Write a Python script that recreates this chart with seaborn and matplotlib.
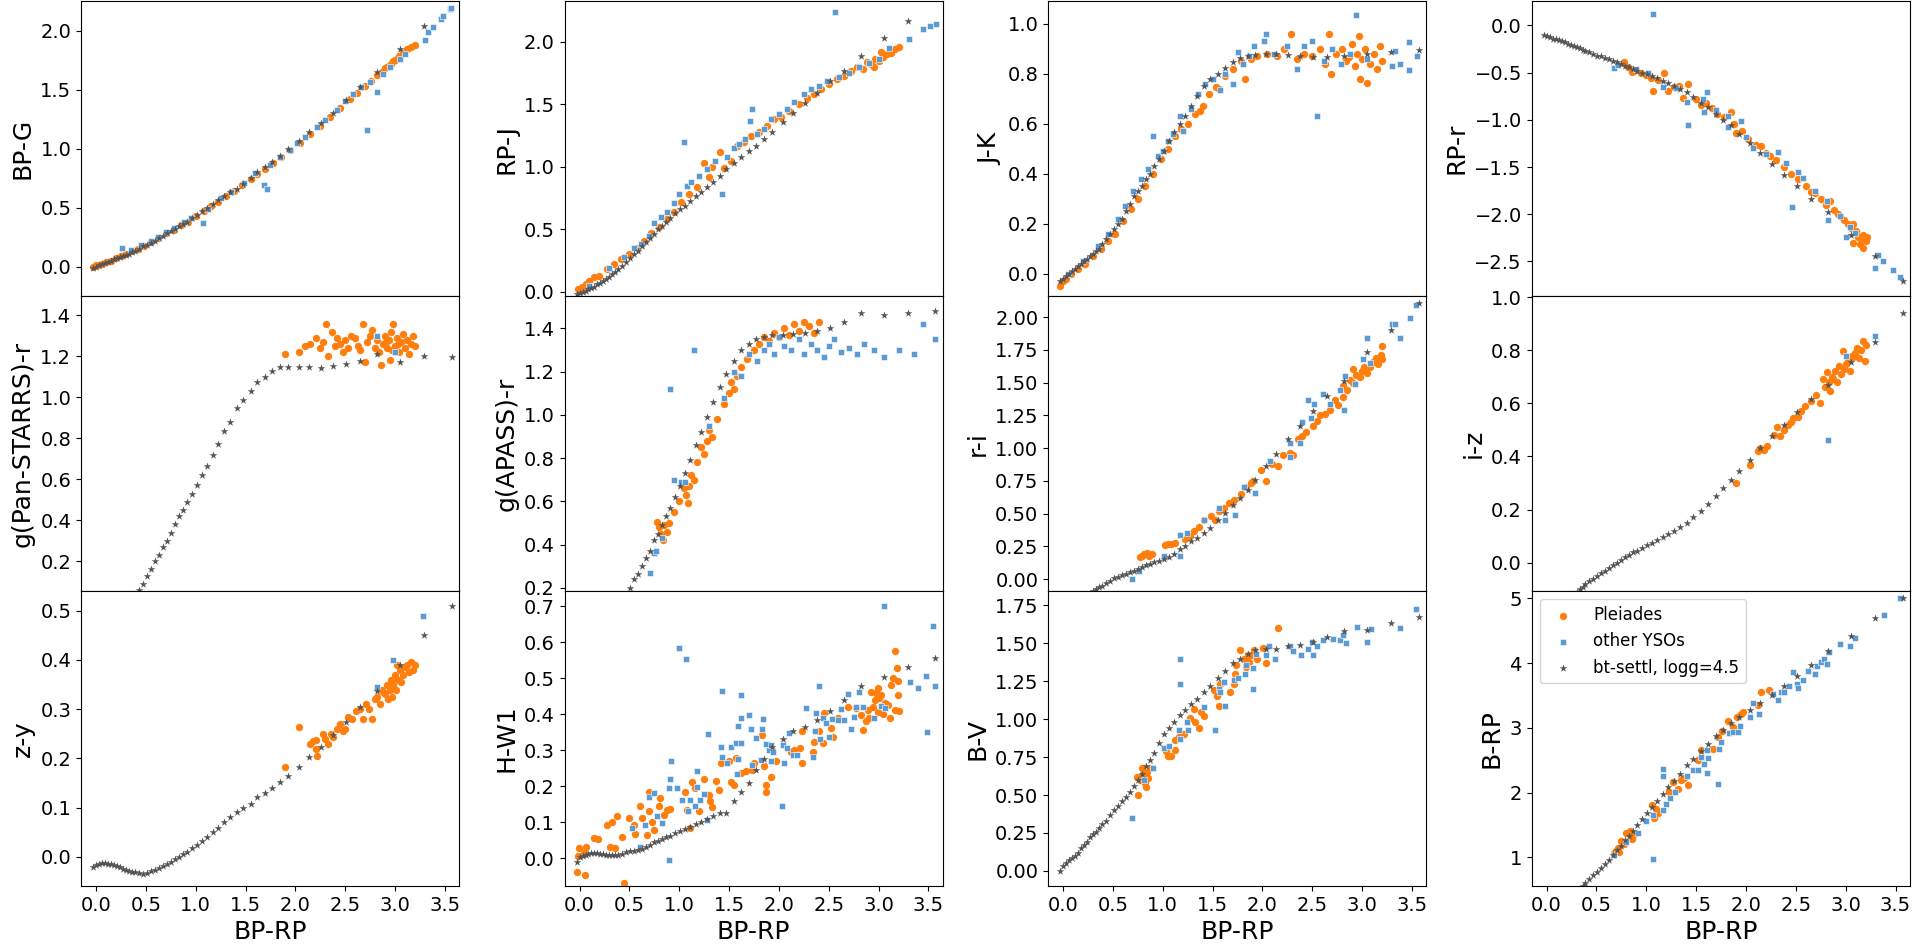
import numpy as np
import pandas as pd
import seaborn as sns
import matplotlib
matplotlib.use("Agg")
import matplotlib.pyplot as plt
import matplotlib.ticker as ticker

nan = np.nan

# bt-settl model grid (BP-RP), shared by every panel
bt_bp_rp = [
    -0.03, 0.00, 0.03, 0.06, 0.09, 0.12, 0.15, 0.18, 0.21, 0.24,
    0.27, 0.30, 0.33, 0.36, 0.39, 0.43, 0.47, 0.51, 0.55, 0.59,
    0.63, 0.67, 0.71, 0.75, 0.79, 0.83, 0.87, 0.91, 0.96, 1.01,
    1.06, 1.11, 1.17, 1.22, 1.28, 1.34, 1.41, 1.47, 1.55, 1.62,
    1.70, 1.77, 1.85, 1.93, 2.04, 2.14, 2.26, 2.38, 2.51, 2.65,
    2.82, 3.05, 3.29, 3.57]

bt_bp_g = [
    -0.01, 0.00, 0.01, 0.02, 0.03, 0.04, 0.05, 0.06, 0.07, 0.08,
    0.09, 0.10, 0.11, 0.12, 0.13, 0.15, 0.17, 0.18, 0.20, 0.22,
    0.24, 0.26, 0.28, 0.30, 0.32, 0.34, 0.36, 0.38, 0.41, 0.44,
    0.47, 0.50, 0.53, 0.56, 0.60, 0.63, 0.66, 0.70, 0.75, 0.80,
    0.84, 0.89, 0.94, 1.00, 1.06, 1.14, 1.22, 1.30, 1.41, 1.52,
    1.65, 1.84, 2.04, 2.33]
bt_pan = [
    nan, nan, nan, nan, nan, nan, nan, nan, nan, nan,
    nan, nan, nan, nan, nan, 0.06, 0.09, 0.13, 0.16, 0.20,
    0.23, 0.27, 0.30, 0.34, 0.38, 0.42, 0.45, 0.49, 0.53, 0.57,
    0.62, 0.665, 0.72, 0.77, 0.836, 0.88, 0.946, 0.985, 1.032, 1.075,
    1.10, 1.13, 1.147, 1.149, 1.149, 1.149, 1.144, 1.153, 1.161, 1.177,
    1.21, 1.17, 1.20, 1.195]
bt_z_y = [
    -0.020, -0.016, -0.014, -0.013, -0.013, -0.014, -0.015, -0.016, -0.018, -0.021,
    -0.024, -0.026, -0.028, -0.030, -0.031, -0.033, -0.034, -0.032, -0.029, -0.026,
    -0.023, -0.019, -0.015, -0.010, -0.005, 0.000, 0.005, 0.011, 0.018, 0.025,
    0.033, 0.041, 0.051, 0.059, 0.070, 0.082, 0.092, 0.100, 0.108, 0.121,
    0.129, 0.141, 0.152, 0.165, 0.182, 0.202, 0.223, 0.247, 0.274, 0.304,
    0.338, 0.39, 0.45, 0.51]
bt_rp_j = [
    -0.02, -0.01, 0.00, 0.01, 0.02, 0.03, 0.04, 0.06, 0.07, 0.09,
    0.10, 0.12, 0.14, 0.16, 0.18, 0.21, 0.24, 0.27, 0.30, 0.33,
    0.37, 0.40, 0.43, 0.46, 0.50, 0.53, 0.56, 0.59, 0.63, 0.66,
    0.69, 0.73, 0.77, 0.80, 0.84, 0.88, 0.93, 0.98, 1.03, 1.08,
    1.13, 1.17, 1.22, 1.28, 1.36, 1.43, 1.51, 1.59, 1.69, 1.77,
    1.89, 2.03, 2.17, 2.40]
bt_apass = [
    nan, nan, nan, nan, nan, nan, nan, nan, nan, nan,
    nan, nan, nan, nan, nan, nan, nan, 0.20, 0.24, 0.265,
    0.30, 0.34, 0.37, 0.42, 0.45, 0.49, 0.53, 0.57, 0.62, 0.67,
    0.73, 0.79, 0.86, 0.92, 0.99, 1.06, 1.13, 1.19, 1.25, 1.30,
    1.33, 1.35, 1.36, 1.37, 1.37, 1.375, 1.38, 1.39, 1.40, 1.43,
    1.47, 1.46, 1.47, 1.48]
bt_h_w1 = [
    -0.010, 0.003, 0.007, 0.010, 0.013, 0.015, 0.016, 0.015, 0.013, 0.011,
    0.010, 0.009, 0.008, 0.008, 0.009, 0.013, 0.018, 0.019, 0.020, 0.023,
    0.025, 0.030, 0.036, 0.044, 0.049, 0.054, 0.058, 0.063, 0.069, 0.075,
    0.081, 0.087, 0.095, 0.102, 0.108, 0.116, 0.125, 0.125, 0.159, 0.185,
    0.210, 0.245, 0.275, 0.308, 0.330, 0.352, 0.364, 0.384, 0.409, 0.440,
    0.477, 0.502, 0.532, 0.557]
bt_j_k = [
    -0.03, -0.02, -0.01, 0.00, 0.01, 0.02, 0.03, 0.04, 0.05, 0.06,
    0.07, 0.08, 0.09, 0.10, 0.12, 0.14, 0.16, 0.18, 0.20, 0.22,
    0.25, 0.28, 0.31, 0.33, 0.35, 0.38, 0.40, 0.43, 0.46, 0.49,
    0.53, 0.565, 0.60, 0.63, 0.67, 0.71, 0.75, 0.78, 0.80, 0.823,
    0.845, 0.863, 0.87, 0.875, 0.879, 0.879, 0.875, 0.872, 0.868, 0.868,
    0.872, 0.88, 0.888, 0.895]
bt_r_i = [
    nan, nan, nan, nan, nan, nan, nan, nan, nan, nan,
    nan, -0.09, -0.077, -0.062, -0.048, -0.03, -0.01, 0.008, 0.018, 0.03,
    0.042, 0.054, 0.066, 0.08, 0.092, 0.106, 0.118, 0.13, 0.142, 0.156,
    0.172, 0.19, 0.228, 0.256, 0.29, 0.315, 0.352, 0.39, 0.448, 0.505,
    0.565, 0.62, 0.68, 0.76, 0.864, 0.955, 1.07, 1.17, 1.28, 1.40,
    1.51, 1.73, 1.90, 2.11]
bt_b_v = [
    0.00, 0.03, 0.05, 0.07, 0.085, 0.10, 0.12, 0.15, 0.17, 0.19,
    0.22, 0.24, 0.255, 0.28, 0.31, 0.33, 0.37, 0.40, 0.43, 0.46,
    0.49, 0.52, 0.56, 0.60, 0.64, 0.69, 0.73, 0.78, 0.84, 0.90,
    0.94, 0.98, 1.03, 1.06, 1.10, 1.135, 1.176, 1.217, 1.27, 1.32,
    1.37, 1.40, 1.43, 1.455, 1.466, 1.466, 1.48, 1.49, 1.51, 1.54,
    1.584, 1.59, 1.637, 1.673]
bt_rp_r = [
    -0.10, -0.11, -0.12, -0.14, -0.15, -0.16, -0.17, -0.18, -0.20, -0.21,
    -0.22, -0.23, -0.24, -0.26, -0.27, -0.28, -0.30, -0.32, -0.33, -0.35,
    -0.36, -0.38, -0.39, -0.41, -0.43, -0.44, -0.46, -0.48, -0.50, -0.52,
    -0.54, -0.56, -0.59, -0.61, -0.64, -0.67, -0.71, -0.76, -0.82, -0.87,
    -0.94, -1.00, -1.06, -1.15, -1.25, -1.35, -1.47, -1.58, -1.70, -1.84,
    -1.98, -2.22, -2.44, -2.71]
bt_i_z = [
    -0.22, -0.21, -0.20, -0.19, -0.18, -0.17, -0.16, -0.15, -0.14, -0.13,
    -0.12, -0.11, -0.10, -0.09, -0.08, -0.07, -0.06, -0.05, -0.04, -0.03,
    -0.02, -0.01, 0.00, 0.01, 0.02, 0.03, 0.04, 0.045, 0.055, 0.065,
    0.075, 0.085, 0.097, 0.109, 0.12, 0.134, 0.15, 0.17, 0.196, 0.222,
    0.25, 0.28, 0.31, 0.346, 0.388, 0.43, 0.475, 0.518, 0.567, 0.615,
    0.67, 0.754, 0.83, 0.94]
bt_b_rp = [
    nan, nan, nan, nan, nan, nan, nan, nan, nan, nan,
    nan, nan, nan, 0.55, 0.60, 0.67, 0.73, 0.78, 0.83, 0.89,
    0.96, 1.04, 1.11, 1.18, 1.26, 1.33, 1.41, 1.50, 1.59, 1.69,
    1.77, 1.87, 1.98, 2.09, 2.18, 2.28, 2.42, 2.52, 2.64, 2.75,
    2.88, 2.97, 3.07, 3.17, 3.28, 3.38, 3.51, 3.65, 3.80, 3.97,
    4.18, 4.42, 4.69, 5.00]

# Pleiades members: (BP-RP, colour)
pl_bp_g = [(-0.03, 0.00), (0.00, 0.01), (0.03, 0.01), (0.06, 0.02), (0.10, 0.04), (0.15, 0.05),
           (0.20, 0.07), (0.25, 0.09), (0.30, 0.11), (0.36, 0.13), (0.42, 0.15), (0.48, 0.17),
           (0.55, 0.21), (0.62, 0.24), (0.70, 0.28), (0.78, 0.31), (0.85, 0.35), (0.92, 0.38),
           (1.00, 0.43), (1.08, 0.47), (1.15, 0.51), (1.22, 0.55), (1.30, 0.60), (1.38, 0.64),
           (1.46, 0.69), (1.55, 0.74), (1.62, 0.78), (1.70, 0.83), (1.78, 0.88), (1.86, 0.93),
           (1.95, 0.99), (2.05, 1.05), (2.15, 1.12), (2.25, 1.19), (2.35, 1.27), (2.45, 1.34),
           (2.55, 1.42), (2.62, 1.47), (2.70, 1.53), (2.76, 1.57), (2.82, 1.62), (2.87, 1.65),
           (2.92, 1.69), (2.96, 1.72), (3.00, 1.75), (3.04, 1.78), (3.08, 1.81), (3.12, 1.84),
           (3.16, 1.86), (3.20, 1.88), (2.98, 1.74), (3.02, 1.76), (2.90, 1.68), (2.94, 1.70)]
pl_pan = [(1.90, 1.21), (2.04, 1.22), (2.10, 1.25), (2.15, 1.26), (2.21, 1.29), (2.25, 1.24),
          (2.28, 1.27), (2.31, 1.36), (2.33, 1.20), (2.37, 1.32), (2.40, 1.25), (2.42, 1.29),
          (2.45, 1.26), (2.48, 1.22), (2.50, 1.28), (2.53, 1.24), (2.56, 1.30), (2.60, 1.29),
          (2.63, 1.25), (2.65, 1.23), (2.68, 1.36), (2.70, 1.17), (2.72, 1.27), (2.75, 1.30),
          (2.77, 1.33), (2.80, 1.24), (2.82, 1.28), (2.84, 1.22), (2.86, 1.16), (2.88, 1.26),
          (2.90, 1.30), (2.92, 1.24), (2.94, 1.28), (2.95, 1.18), (2.96, 1.32), (2.98, 1.36),
          (3.00, 1.25), (3.02, 1.29), (3.04, 1.22), (3.06, 1.27), (3.08, 1.31), (3.10, 1.24),
          (3.12, 1.28), (3.14, 1.21), (3.16, 1.26), (3.18, 1.30), (3.20, 1.25), (2.97, 1.23),
          (3.03, 1.26), (2.91, 1.27)]
pl_z_y = [(1.90, 0.182), (2.04, 0.263), (2.15, 0.23), (2.18, 0.235), (2.21, 0.237), (2.21, 0.22),
          (2.22, 0.204), (2.28, 0.25), (2.30, 0.24), (2.33, 0.23), (2.36, 0.25), (2.38, 0.243),
          (2.42, 0.26), (2.45, 0.27), (2.48, 0.255), (2.50, 0.26), (2.53, 0.285), (2.57, 0.28),
          (2.61, 0.296), (2.65, 0.30), (2.68, 0.28), (2.71, 0.311), (2.74, 0.30), (2.77, 0.28),
          (2.80, 0.32), (2.82, 0.325), (2.85, 0.31), (2.87, 0.34), (2.88, 0.335), (2.90, 0.33),
          (2.92, 0.35), (2.93, 0.32), (2.95, 0.34), (2.96, 0.36), (2.98, 0.35), (3.00, 0.37),
          (3.01, 0.34), (3.03, 0.36), (3.05, 0.38), (3.06, 0.355), (3.08, 0.37), (3.10, 0.385),
          (3.12, 0.39), (3.14, 0.375), (3.16, 0.395), (3.18, 0.38), (3.20, 0.39), (2.97, 0.325),
          (3.02, 0.39)]
pl_rp_j = [(-0.02, 0.02), (0.02, 0.04), (0.06, 0.06), (0.10, 0.09), (0.15, 0.12), (0.20, 0.13),
           (0.28, 0.18), (0.35, 0.22), (0.42, 0.26), (0.50, 0.30), (0.58, 0.35), (0.65, 0.41),
           (0.72, 0.47), (0.80, 0.52), (0.88, 0.58), (0.95, 0.64), (1.02, 0.72), (1.10, 0.78),
           (1.18, 0.84), (1.25, 1.03), (1.30, 0.92), (1.33, 1.00), (1.41, 1.12), (1.45, 0.99),
           (1.52, 1.05), (1.58, 1.17), (1.65, 1.20), (1.72, 1.25), (1.80, 1.28), (1.88, 1.33),
           (1.95, 1.38), (2.02, 1.40), (2.10, 1.45), (2.20, 1.50), (2.28, 1.55), (2.35, 1.58),
           (2.42, 1.62), (2.50, 1.66), (2.58, 1.70), (2.65, 1.73), (2.72, 1.77), (2.78, 1.80),
           (2.84, 1.78), (2.88, 1.84), (2.92, 1.82), (2.96, 1.86), (3.00, 1.85), (3.04, 1.88),
           (3.08, 1.90), (3.12, 1.91), (3.16, 1.94), (3.20, 1.96), (2.95, 1.80), (3.02, 1.92)]
pl_apass = [(0.78, 0.505), (0.80, 0.48), (0.82, 0.45), (0.84, 0.42), (0.85, 0.49), (0.88, 0.46),
            (0.90, 0.50), (0.95, 0.55), (1.00, 0.60), (1.05, 0.66), (1.07, 0.63), (1.09, 0.59),
            (1.10, 0.67), (1.12, 0.72), (1.15, 0.70), (1.18, 0.78), (1.22, 0.85), (1.25, 0.82),
            (1.28, 0.88), (1.30, 0.93), (1.33, 0.90), (1.38, 0.98), (1.45, 1.05), (1.50, 1.10),
            (1.52, 1.15), (1.55, 1.12), (1.58, 1.18), (1.62, 1.22), (1.68, 1.26), (1.75, 1.30),
            (1.80, 1.33), (1.85, 1.36), (1.90, 1.34), (1.95, 1.38), (2.00, 1.36), (2.05, 1.40),
            (2.10, 1.37), (2.15, 1.42), (2.20, 1.39), (2.25, 1.43), (2.30, 1.41), (2.35, 1.38),
            (2.40, 1.43)]
pl_h_w1 = [(-0.03, -0.039), (0.05, -0.046), (-0.01, 0.028), (0.06, 0.031), (0.04, 0.014), (-0.02, 0.007),
           (0.15, 0.056), (0.19, 0.054), (0.28, 0.093), (0.33, 0.102), (0.38, 0.118), (0.31, 0.032),
           (0.36, 0.028), (0.43, 0.06), (0.45, -0.07), (0.50, 0.111), (0.55, 0.093), (0.56, 0.067),
           (0.61, 0.144), (0.63, 0.111), (0.68, 0.065), (0.70, 0.13), (0.70, 0.185), (0.73, 0.102),
           (0.75, 0.079), (0.80, 0.144), (0.81, 0.167), (0.85, 0.12), (0.88, 0.134), (0.91, 0.137),
           (1.06, 0.185), (1.08, 0.134), (1.11, 0.083), (1.13, 0.213), (1.16, 0.194), (1.20, 0.13),
           (1.25, 0.22), (1.30, 0.176), (1.31, 0.159), (1.33, 0.141), (1.37, 0.215), (1.40, 0.19),
           (1.42, 0.264), (1.50, 0.269), (1.52, 0.213), (1.55, 0.204), (1.57, 0.278), (1.62, 0.236),
           (1.67, 0.241), (1.73, 0.245), (1.75, 0.264), (1.83, 0.343), (1.85, 0.255), (1.87, 0.204),
           (1.87, 0.185), (1.92, 0.227), (1.93, 0.30), (1.97, 0.269), (2.12, 0.296), (2.15, 0.30),
           (2.21, 0.306), (2.23, 0.264), (2.23, 0.352), (2.35, 0.324), (2.34, 0.296), (2.40, 0.352),
           (2.44, 0.32), (2.45, 0.403), (2.52, 0.361), (2.54, 0.338), (2.59, 0.389), (2.69, 0.421),
           (2.77, 0.417), (2.82, 0.398), (2.84, 0.356), (2.87, 0.38), (2.89, 0.412), (2.92, 0.463),
           (2.96, 0.44), (2.99, 0.472), (3.02, 0.454), (3.06, 0.43), (3.11, 0.389), (3.12, 0.481),
           (3.16, 0.412), (3.16, 0.576), (3.18, 0.528), (3.19, 0.491), (3.19, 0.454), (3.20, 0.409),
           (3.09, 0.426), (2.99, 0.407), (2.94, 0.42), (3.00, 0.445), (3.04, 0.40), (2.90, 0.39),
           (2.97, 0.46), (3.14, 0.50)]
pl_j_k = [(-0.03, -0.05), (0.00, -0.03), (0.03, -0.02), (0.08, 0.00), (0.15, 0.02), (0.22, 0.04),
          (0.30, 0.07), (0.38, 0.10), (0.45, 0.13), (0.52, 0.16), (0.60, 0.21), (0.68, 0.26),
          (0.75, 0.30), (0.82, 0.35), (0.90, 0.40), (0.98, 0.46), (1.05, 0.50), (1.12, 0.55),
          (1.18, 0.58), (1.25, 0.60), (1.32, 0.64), (1.37, 0.65), (1.40, 0.67), (1.46, 0.72),
          (1.53, 0.745), (1.56, 0.74), (1.62, 0.79), (1.70, 0.82), (1.78, 0.85), (1.82, 0.78),
          (1.88, 0.86), (1.95, 0.87), (2.05, 0.88), (2.15, 0.87), (2.22, 0.90), (2.29, 0.96),
          (2.35, 0.86), (2.42, 0.88), (2.50, 0.87), (2.58, 0.90), (2.63, 0.84), (2.67, 0.96),
          (2.69, 0.80), (2.74, 0.88), (2.80, 0.90), (2.84, 0.85), (2.87, 0.865), (2.90, 0.92),
          (2.93, 0.83), (2.95, 0.88), (2.97, 0.95), (2.98, 0.78), (3.00, 0.86), (3.03, 0.90),
          (3.05, 0.764), (3.08, 0.84), (3.12, 0.88), (3.15, 0.82), (3.18, 0.91), (3.20, 0.85)]
pl_r_i = [(0.77, 0.17), (0.79, 0.176), (0.81, 0.19), (0.84, 0.198), (0.86, 0.18), (0.89, 0.19),
          (1.02, 0.26), (1.05, 0.272), (1.08, 0.27), (1.12, 0.28), (1.22, 0.31), (1.27, 0.33),
          (1.31, 0.368), (1.36, 0.40), (1.41, 0.454), (1.48, 0.48), (1.52, 0.454), (1.56, 0.52),
          (1.61, 0.544), (1.66, 0.58), (1.71, 0.608), (1.78, 0.65), (1.83, 0.70), (1.88, 0.736),
          (1.91, 0.75), (1.99, 0.832), (2.04, 0.75), (2.10, 0.88), (2.16, 0.864), (2.21, 0.944),
          (2.28, 0.96), (2.31, 0.944), (2.36, 1.07), (2.40, 1.09), (2.44, 1.12), (2.51, 1.17),
          (2.55, 1.21), (2.58, 1.25), (2.63, 1.26), (2.68, 1.29), (2.73, 1.37), (2.76, 1.33),
          (2.81, 1.39), (2.81, 1.47), (2.85, 1.44), (2.88, 1.52), (2.91, 1.60), (2.91, 1.50),
          (2.94, 1.56), (2.98, 1.54), (3.00, 1.59), (3.02, 1.62), (3.05, 1.57), (3.08, 1.62),
          (3.11, 1.66), (3.14, 1.69), (3.16, 1.64), (3.19, 1.71), (3.20, 1.78), (3.20, 1.68)]
pl_b_v = [(0.75, 0.50), (0.74, 0.62), (0.77, 0.60), (0.79, 0.68), (0.82, 0.58), (0.83, 0.555),
          (0.84, 0.65), (0.85, 0.61), (0.87, 0.68), (0.80, 0.64), (1.03, 0.79), (1.05, 0.76),
          (1.08, 0.76), (1.12, 0.795), (1.12, 0.86), (1.16, 0.885), (1.21, 0.90), (1.27, 1.01),
          (1.31, 1.065), (1.32, 0.98), (1.36, 0.94), (1.38, 1.05), (1.41, 1.02), (1.51, 1.19),
          (1.54, 1.15), (1.56, 1.09), (1.57, 1.23), (1.67, 1.18), (1.71, 1.23), (1.72, 1.30),
          (1.73, 1.355), (1.77, 1.457), (1.81, 1.397), (1.83, 1.347), (1.85, 1.42), (1.89, 1.42),
          (1.92, 1.457), (2.01, 1.47), (2.04, 1.37), (2.16, 1.60), (1.95, 1.40), (1.86, 1.38)]
pl_rp_r = [(0.78, -0.39), (0.82, -0.44), (0.86, -0.49), (0.90, -0.47), (0.95, -0.50), (1.00, -0.53),
           (1.05, -0.56), (1.07, -0.70), (1.12, -0.58), (1.18, -0.51), (1.22, -0.70), (1.28, -0.65),
           (1.33, -0.64), (1.37, -0.77), (1.42, -0.62), (1.50, -0.78), (1.55, -0.84), (1.60, -0.82),
           (1.66, -0.88), (1.71, -0.94), (1.78, -0.97), (1.85, -0.92), (1.88, -1.05), (1.90, -1.14),
           (1.96, -1.12), (2.02, -1.20), (2.10, -1.27), (2.15, -1.28), (2.20, -1.35), (2.24, -1.38),
           (2.30, -1.43), (2.38, -1.50), (2.45, -1.57), (2.52, -1.63), (2.60, -1.70), (2.65, -1.76),
           (2.69, -1.78), (2.75, -1.84), (2.80, -1.90), (2.84, -1.86), (2.88, -1.96), (2.92, -2.00),
           (2.94, -2.02), (2.98, -2.06), (3.02, -2.10), (3.05, -2.15), (3.07, -2.10), (3.10, -2.18),
           (3.12, -2.24), (3.15, -2.26), (3.17, -2.22), (3.20, -2.28), (3.21, -2.24), (3.17, -2.36),
           (3.07, -2.30), (3.14, -2.31)]
pl_i_z = [(1.90, 0.30), (2.04, 0.368), (2.12, 0.42), (2.14, 0.43), (2.18, 0.425), (2.21, 0.44),
          (2.28, 0.48), (2.31, 0.51), (2.34, 0.475), (2.38, 0.50), (2.42, 0.52), (2.45, 0.53),
          (2.47, 0.546), (2.52, 0.55), (2.55, 0.57), (2.59, 0.59), (2.65, 0.61), (2.70, 0.632),
          (2.74, 0.60), (2.77, 0.69), (2.79, 0.66), (2.81, 0.718), (2.83, 0.68), (2.84, 0.647),
          (2.86, 0.70), (2.87, 0.69), (2.89, 0.72), (2.91, 0.68), (2.93, 0.74), (2.95, 0.71),
          (2.97, 0.797), (2.98, 0.73), (3.00, 0.747), (3.02, 0.76), (3.04, 0.72), (3.06, 0.78),
          (3.07, 0.775), (3.09, 0.79), (3.11, 0.81), (3.13, 0.77), (3.15, 0.80), (3.17, 0.833),
          (3.19, 0.761), (3.20, 0.82)]
pl_b_rp = [(0.68, 1.06), (0.72, 1.14), (0.73, 1.09), (0.75, 1.25), (0.80, 1.37), (0.84, 1.40),
           (0.86, 1.29), (0.87, 1.35), (0.70, 1.10), (0.78, 1.20), (1.06, 1.81), (1.08, 1.60),
           (1.12, 1.68), (1.10, 1.75), (1.23, 2.01), (1.27, 2.17), (1.32, 2.06), (1.35, 2.19),
           (1.38, 2.23), (1.42, 2.12), (1.52, 2.50), (1.55, 2.66), (1.67, 2.68), (1.72, 2.86),
           (1.76, 2.95), (1.82, 3.10), (1.87, 3.02), (1.91, 3.16), (1.95, 3.22), (1.97, 3.25),
           (2.12, 3.35), (2.15, 3.56), (2.23, 3.59)]

# other YSOs: (BP-RP, colour)
ys_bp_g = [(0.26, 0.16), (0.35, 0.14), (0.45, 0.18), (0.55, 0.22), (0.62, 0.25), (0.70, 0.29),
           (0.78, 0.33), (0.88, 0.38), (0.95, 0.41), (1.07, 0.37), (1.12, 0.49), (1.25, 0.58),
           (1.35, 0.63), (1.48, 0.71), (1.60, 0.79), (1.69, 0.69), (1.72, 0.66), (1.75, 0.86),
           (1.85, 0.93), (1.95, 0.99), (2.02, 1.05), (2.10, 1.10), (2.22, 1.18), (2.30, 1.24),
           (2.42, 1.33), (2.50, 1.40), (2.58, 1.46), (2.66, 1.52), (2.72, 1.16), (2.75, 1.56),
           (2.82, 1.48), (2.88, 1.63), (2.95, 1.69), (3.05, 1.76), (3.10, 1.80), (3.30, 1.92),
           (3.33, 1.99), (3.38, 2.03), (3.46, 2.10), (3.48, 2.12), (3.55, 2.18), (3.56, 2.19)]
ys_pan = [(2.82, 1.30), (3.00, 1.22)]
ys_z_y = [(2.82, 0.345), (2.98, 0.40), (3.28, 0.49)]
ys_rp_j = [(0.10, 0.05), (0.30, 0.19), (0.45, 0.28), (0.55, 0.35), (0.62, 0.38), (0.70, 0.45),
           (0.75, 0.55), (0.82, 0.60), (0.88, 0.64), (0.95, 0.71), (1.00, 0.78), (1.05, 1.20),
           (1.08, 0.85), (1.12, 0.88), (1.20, 0.93), (1.28, 0.98), (1.36, 1.05), (1.43, 0.78),
           (1.48, 1.08), (1.55, 1.15), (1.60, 1.18), (1.66, 1.22), (1.71, 1.37), (1.73, 1.46),
           (1.78, 1.26), (1.85, 1.30), (1.92, 1.38), (2.00, 1.42), (2.08, 1.46), (2.15, 1.52),
           (2.25, 1.58), (2.32, 1.62), (2.40, 1.65), (2.48, 1.69), (2.56, 2.24), (2.60, 1.72),
           (2.70, 1.75), (2.80, 1.80), (2.90, 1.83), (3.00, 1.86), (3.10, 1.95), (3.30, 2.02),
           (3.45, 2.10), (3.52, 2.13), (3.58, 2.14)]
ys_apass = [(0.71, 0.27), (0.75, 0.36), (0.77, 0.37), (0.83, 0.43), (0.91, 1.12), (0.95, 0.70),
            (1.02, 0.69), (1.06, 0.69), (1.15, 1.30), (1.30, 0.95), (1.45, 1.08), (1.55, 1.20),
            (1.62, 1.18), (1.70, 1.28), (1.78, 1.25), (1.85, 1.30), (1.90, 1.33), (1.95, 1.28),
            (2.00, 1.36), (2.05, 1.32), (2.12, 1.30), (2.20, 1.35), (2.25, 1.28), (2.32, 1.33),
            (2.38, 1.30), (2.45, 1.27), (2.50, 1.32), (2.55, 1.35), (2.62, 1.29), (2.70, 1.31),
            (2.78, 1.28), (2.85, 1.33), (2.95, 1.30), (3.05, 1.27), (3.20, 1.30), (3.35, 1.28),
            (3.57, 1.35), (3.45, 1.42)]
ys_h_w1 = [(0.53, 0.085), (0.61, 0.03), (0.66, 0.093), (0.70, 0.171), (0.75, 0.181), (0.78, 0.116),
           (0.83, 0.097), (0.90, -0.005), (0.90, 0.194), (0.91, 0.22), (0.92, 0.27), (0.98, 0.194),
           (1.00, 0.583), (1.03, 0.162), (1.07, 0.554), (1.09, 0.13), (1.11, 0.162), (1.16, 0.144),
           (1.18, 0.243), (1.18, 0.199), (1.21, 0.162), (1.25, 0.178), (1.28, 0.106), (1.29, 0.344),
           (1.42, 0.31), (1.43, 0.465), (1.43, 0.282), (1.48, 0.264), (1.52, 0.308), (1.57, 0.319),
           (1.58, 0.233), (1.59, 0.275), (1.59, 0.366), (1.62, 0.319), (1.62, 0.454), (1.62, 0.389),
           (1.70, 0.398), (1.72, 0.359), (1.73, 0.259), (1.77, 0.333), (1.82, 0.273), (1.83, 0.359),
           (1.84, 0.386), (1.87, 0.317), (1.90, 0.30), (1.92, 0.269), (1.92, 0.315), (1.94, 0.296),
           (2.03, 0.144), (2.04, 0.315), (2.05, 0.264), (2.08, 0.306), (2.10, 0.347), (2.14, 0.287),
           (2.18, 0.287), (2.27, 0.417), (2.34, 0.282), (2.36, 0.354), (2.37, 0.403), (2.40, 0.477),
           (2.41, 0.331), (2.44, 0.389), (2.47, 0.375), (2.50, 0.338), (2.53, 0.386), (2.59, 0.384),
           (2.62, 0.415), (2.65, 0.384), (2.69, 0.456), (2.72, 0.359), (2.75, 0.391), (2.77, 0.419),
           (2.80, 0.461), (2.84, 0.419), (2.95, 0.389), (3.02, 0.424), (3.05, 0.70), (3.06, 0.417),
           (3.31, 0.489), (3.39, 0.472), (3.48, 0.505), (3.49, 0.35), (3.55, 0.644), (3.57, 0.477)]
ys_j_k = [(0.05, 0.00), (0.20, 0.05), (0.35, 0.11), (0.45, 0.16), (0.55, 0.22), (0.62, 0.27),
          (0.70, 0.33), (0.78, 0.38), (0.85, 0.42), (0.90, 0.55), (0.95, 0.47), (1.00, 0.49),
          (1.05, 0.53), (1.10, 0.56), (1.17, 0.63), (1.20, 0.57), (1.28, 0.66), (1.35, 0.72),
          (1.42, 0.76), (1.50, 0.78), (1.57, 0.735), (1.62, 0.80), (1.70, 0.76), (1.75, 0.886),
          (1.80, 0.84), (1.86, 0.87), (1.92, 0.91), (2.02, 0.93), (2.04, 0.96), (2.12, 0.88),
          (2.25, 0.91), (2.35, 0.82), (2.42, 0.91), (2.50, 0.93), (2.55, 0.63), (2.62, 0.85),
          (2.70, 0.90), (2.79, 0.84), (2.88, 0.88), (2.94, 1.036), (3.05, 0.86), (3.30, 0.83),
          (3.33, 0.89), (3.38, 0.84), (3.47, 0.925), (3.47, 0.815), (3.55, 0.87)]
ys_r_i = [(0.69, 0.00), (0.76, 0.064), (1.01, 0.18), (1.17, 0.18), (1.17, 0.336), (1.24, 0.35),
          (1.41, 0.454), (1.56, 0.54), (1.62, 0.448), (1.72, 0.49), (1.81, 0.704), (1.93, 0.656),
          (2.08, 0.90), (2.28, 0.93), (2.28, 1.04), (2.38, 1.04), (2.40, 1.20), (2.46, 1.37),
          (2.49, 1.23), (2.52, 1.34), (2.61, 1.41), (2.68, 1.34), (2.78, 1.44), (2.83, 1.55),
          (2.82, 1.29), (2.93, 1.49), (3.05, 1.84), (3.01, 1.68), (3.08, 1.65), (3.30, 1.95),
          (3.33, 1.95), (3.38, 1.84), (3.48, 1.99), (3.54, 2.09)]
ys_b_v = [(0.69, 0.35), (0.81, 0.60), (0.90, 0.68), (1.01, 0.81), (1.06, 0.82), (1.17, 1.397),
          (1.17, 1.23), (1.16, 0.93), (1.17, 0.87), (1.24, 0.98), (1.25, 0.93), (1.41, 1.08),
          (1.52, 0.93), (1.56, 1.20), (1.57, 1.176), (1.61, 1.245), (1.62, 1.09), (1.71, 1.26),
          (1.75, 1.27), (1.82, 1.30), (1.83, 1.36), (1.91, 1.34), (1.91, 1.20), (1.94, 1.43),
          (2.04, 1.42), (2.07, 1.48), (2.13, 1.40), (2.28, 1.485), (2.31, 1.45), (2.39, 1.42),
          (2.46, 1.466), (2.50, 1.51), (2.51, 1.42), (2.55, 1.48), (2.61, 1.52), (2.71, 1.526),
          (2.78, 1.52), (2.81, 1.557), (2.84, 1.50), (2.95, 1.61), (3.05, 1.51), (3.09, 1.595),
          (3.38, 1.60), (3.54, 1.728)]
ys_rp_r = [(0.68, -0.45), (0.72, -0.42), (0.90, -0.46), (1.02, -0.51), (1.07, 0.117), (1.17, -0.65),
           (1.30, -0.66), (1.41, -0.81), (1.42, -1.06), (1.57, -0.78), (1.58, -0.92), (1.61, -0.71),
           (1.70, -0.90), (1.82, -0.96), (1.82, -1.08), (1.95, -1.01), (2.00, -1.18), (2.07, -1.30),
           (2.20, -1.36), (2.32, -1.34), (2.40, -1.46), (2.46, -1.92), (2.52, -1.55), (2.57, -1.62),
           (2.69, -1.75), (2.81, -1.86), (2.82, -2.06), (2.94, -2.02), (3.00, -2.24), (3.04, -2.14),
           (3.09, -2.20), (3.29, -2.57), (3.32, -2.43), (3.37, -2.50), (3.47, -2.59), (3.54, -2.66)]
ys_i_z = [(2.82, 0.46), (3.00, 0.78), (3.29, 0.854)]
ys_b_rp = [(0.68, 1.03), (0.80, 1.23), (0.92, 1.37), (1.00, 1.56), (1.07, 0.97), (1.07, 1.65),
           (1.17, 1.73), (1.17, 2.37), (1.17, 2.26), (1.20, 1.83), (1.24, 1.91), (1.29, 2.01),
           (1.41, 2.26), (1.47, 2.35), (1.52, 2.35), (1.55, 2.55), (1.58, 2.44), (1.61, 2.66),
           (1.61, 2.30), (1.62, 2.53), (1.72, 2.13), (1.73, 2.68), (1.75, 2.78), (1.83, 2.92),
           (1.87, 2.94), (1.92, 2.94), (1.94, 3.03), (2.04, 3.16), (2.07, 3.38), (2.13, 3.22),
           (2.27, 3.53), (2.32, 3.43), (2.35, 3.55), (2.38, 3.56), (2.43, 3.65), (2.47, 3.86),
           (2.51, 3.67), (2.52, 3.61), (2.57, 3.74), (2.62, 3.88), (2.69, 3.83), (2.71, 3.95),
           (2.75, 4.02), (2.78, 4.07), (2.81, 3.99), (2.83, 4.17), (2.94, 4.29), (3.04, 4.26),
           (3.09, 4.39), (3.38, 4.75), (3.54, 5.00)]

# row, col, y label, pleiades, ysos, model, y limits, tick step
panels = [
    (0, 0, "BP-G", pl_bp_g, ys_bp_g, bt_bp_g, (-0.25, 2.25), 0.5),
    (1, 0, "g(Pan-STARRS)-r", pl_pan, ys_pan, bt_pan, (0.055, 1.494), 0.2),
    (2, 0, "z-y", pl_z_y, ys_z_y, bt_z_y, (-0.059, 0.54), 0.1),
    (0, 1, "RP-J", pl_rp_j, ys_rp_j, bt_rp_j, (-0.033, 2.326), 0.5),
    (1, 1, "g(APASS)-r", pl_apass, ys_apass, bt_apass, (0.185, 1.55), 0.2),
    (2, 1, "H-W1", pl_h_w1, ys_h_w1, bt_h_w1, (-0.077, 0.742), 0.1),
    (0, 2, "J-K", pl_j_k, ys_j_k, bt_j_k, (-0.09, 1.09), 0.2),
    (1, 2, "r-i", pl_r_i, ys_r_i, bt_r_i, (-0.09, 2.16), 0.25),
    (2, 2, "B-V", pl_b_v, ys_b_v, bt_b_v, (-0.10, 1.845), 0.25),
    (0, 3, "RP-r", pl_rp_r, ys_rp_r, bt_rp_r, (-2.866, 0.257), 0.5),
    (1, 3, "i-z", pl_i_z, ys_i_z, bt_i_z, (-0.107, 1.004), 0.2),
    (2, 3, "B-RP", pl_b_rp, ys_b_rp, bt_b_rp, (0.557, 5.113), 1.0),
]

C_PL = "#ff7f0e"
C_YSO = "#5a9bd4"
C_BT = "#555555"

fig, axes = plt.subplots(3, 4, figsize=(19.2, 9.47), dpi=100, sharex=True)
fig.subplots_adjust(left=0.0422, right=0.9948, bottom=0.0644, top=0.9989,
                    wspace=0.278, hspace=0)

for row, col, ylab, pl, ys, bt, ylim, step in panels:
    ax = axes[row, col]
    last = (row == 2 and col == 3)
    df_pl = pd.DataFrame(pl, columns=["BP-RP", "c"])
    df_ys = pd.DataFrame(ys, columns=["BP-RP", "c"])
    df_bt = pd.DataFrame({"BP-RP": bt_bp_rp, "c": bt})

    sns.scatterplot(data=df_pl, x="BP-RP", y="c", ax=ax, color=C_PL, marker="o",
                    s=28, linewidth=0, label="Pleiades" if last else None)
    sns.scatterplot(data=df_ys, x="BP-RP", y="c", ax=ax, color=C_YSO, marker="s",
                    s=18, edgecolor="white", linewidth=0.4,
                    label="other YSOs" if last else None)
    sns.scatterplot(data=df_bt, x="BP-RP", y="c", ax=ax, color=C_BT, marker="*",
                    s=34, linewidth=0, label="bt-settl, logg=4.5" if last else None)

    ax.set_ylim(*ylim)
    ax.yaxis.set_major_locator(ticker.MultipleLocator(step))
    ax.tick_params(labelsize=14)
    ax.set_ylabel(ylab, fontsize=18)
    if row == 2:
        ax.set_xlabel("BP-RP", fontsize=18)
    else:
        ax.set_xlabel("")
    if ax.get_legend() is not None and not last:
        ax.get_legend().remove()

axes[0, 0].set_xlim(-0.15, 3.645)
axes[0, 0].xaxis.set_major_locator(ticker.MultipleLocator(0.5))

axes[2, 3].legend(loc="upper left", fontsize=12)

plt.savefig("out.png", dpi=100)
